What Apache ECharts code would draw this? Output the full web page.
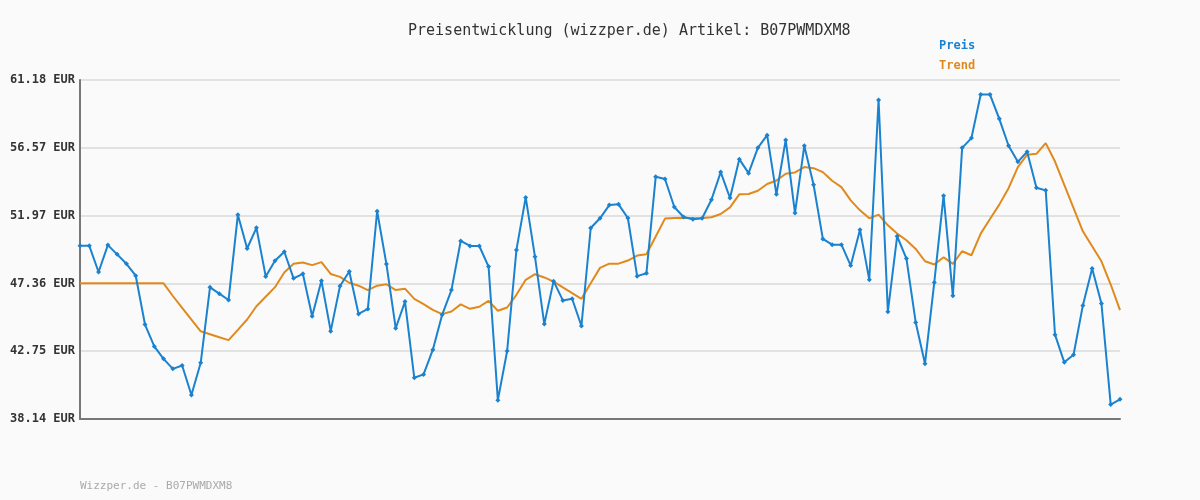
<!DOCTYPE html>
<html>
<head>
<meta charset="utf-8">
<script src="https://cdn.jsdelivr.net/npm/echarts@6/dist/echarts.min.js"></script>
<style>
html, body { margin: 0; padding: 0; background: #fafafa; }
#chart { width: 1200px; height: 500px; }
</style>
</head>
<body>
<div id="chart"></div>
<script>
// Preis (EUR) per point
var preis = [49.91, 49.91, 48.13, 49.96, 49.33, 48.69, 47.88, 44.56, 43.07, 42.23,
    41.55, 41.78, 39.77, 41.96, 47.09, 46.66, 46.23, 52.02, 49.73, 51.13,
    47.83, 48.90, 49.51, 47.70, 48.01, 45.12, 47.54, 44.11, 47.18, 48.17,
    45.28, 45.62, 52.26, 48.67, 44.31, 46.12, 40.94, 41.17, 42.85, 45.22,
    46.90, 50.24, 49.90, 49.90, 48.50, 39.42, 42.76, 49.63, 53.20, 49.16,
    44.59, 47.51, 46.20, 46.31, 44.46, 51.12, 51.78, 52.68, 52.73, 51.80,
    47.85, 48.05, 54.60, 54.45, 52.55, 51.87, 51.71, 51.78, 53.04, 54.92,
    53.16, 55.80, 54.85, 56.57, 57.43, 53.41, 57.11, 52.14, 56.71, 54.06,
    50.38, 49.99, 49.99, 48.57, 51.01, 47.60, 59.82, 45.43, 50.56, 49.04,
    44.70, 41.90, 47.42, 53.32, 46.51, 56.57, 57.23, 60.19, 60.19, 58.54,
    56.71, 55.62, 56.30, 53.86, 53.68, 43.87, 41.99, 42.51, 45.86, 48.37,
    45.99, 39.12, 39.48];

var trend = [47.36, 47.36, 47.36, 47.36, 47.36, 47.36, 47.36, 47.36, 47.36, 47.36,
    46.50, 45.70, 44.90, 44.10, 43.90, 43.70, 43.50, 44.20, 44.90, 45.80,
    46.45, 47.10, 48.10, 48.69, 48.78, 48.60, 48.80, 48.00, 47.80, 47.40,
    47.20, 46.90, 47.20, 47.30, 46.90, 47.00, 46.30, 45.95, 45.56, 45.27,
    45.45, 45.93, 45.63, 45.77, 46.17, 45.50, 45.72, 46.58, 47.60, 47.98,
    47.76, 47.48, 47.08, 46.69, 46.31, 47.37, 48.41, 48.70, 48.70, 48.91,
    49.25, 49.34, 50.54, 51.76, 51.80, 51.82, 51.78, 51.80, 51.85, 52.07,
    52.52, 53.41, 53.43, 53.65, 54.11, 54.35, 54.81, 54.90, 55.26, 55.19,
    54.92, 54.33, 53.90, 53.00, 52.32, 51.78, 52.03, 51.30, 50.74, 50.29,
    49.70, 48.86, 48.64, 49.13, 48.68, 49.54, 49.27, 50.74, 51.73, 52.71,
    53.83, 55.26, 56.10, 56.16, 56.89, 55.64, 54.06, 52.48, 50.90, 49.88,
    48.86, 47.28, 45.54];

// tick labels as printed in the picture (bottom to top)
var tickLabels = ['38.14', '42.75', '47.36', '51.97', '56.57', '61.18'];

var yMin = 38.14;
var yMax = 61.18;
var yStep = 4.608;

var days = [];
for (var i = 0; i < preis.length; i++) days.push(i + 1);

var mono = "'DejaVu Sans Mono', monospace";
var myChart = echarts.init(document.getElementById("chart"));

option = {
    backgroundColor: '#fafafa',
    animation: false,
    title: {
        text: 'Preisentwicklung (wizzper.de) Artikel: B07PWMDXM8',
        left: 403,
        top: 19,
        textStyle: { fontFamily: mono, fontSize: 15, fontWeight: 'normal', color: '#333' }
    },
    graphic: [
        { type: 'text', left: 939, top: 40, style: { text: 'Preis', fill: '#1a82cf', font: 'bold 12px ' + mono } },
        { type: 'text', left: 939, top: 60, style: { text: 'Trend', fill: '#e08a1e', font: 'bold 12px ' + mono } },
        { type: 'text', left: 80, top: 481, style: { text: 'Wizzper.de - B07PWMDXM8', fill: '#aaa', font: '11px ' + mono } }
    ],
    grid: { left: 80, right: 80, top: 80, bottom: 81 },
    xAxis: {
        type: 'category',
        data: days,
        boundaryGap: false,
        axisLine: { lineStyle: { color: '#777', width: 2 } },
        axisTick: { show: false },
        axisLabel: { show: false },
        splitLine: { show: false }
    },
    yAxis: {
        type: 'value',
        min: yMin,
        max: yMax,
        interval: yStep,
        axisLine: { show: true, lineStyle: { color: '#777', width: 2 } },
        axisTick: { show: false },
        axisLabel: {
            fontFamily: mono, fontSize: 12, fontWeight: 'bold', color: '#333', margin: 5,
            formatter: function (v) {
                var k = Math.round((v - yMin) / yStep);
                return tickLabels[k] + ' EUR';
            }
        },
        splitLine: { lineStyle: { color: '#e2e2e2', width: 2 } }
    },
    series: [
        {
            name: 'Trend',
            type: 'line',
            data: trend,
            symbol: 'none',
            lineStyle: { color: '#e08a1e', width: 2 }
        },
        {
            name: 'Preis',
            type: 'line',
            data: preis,
            symbol: 'diamond',
            symbolSize: 5,
            itemStyle: { color: '#1a82cf' },
            lineStyle: { color: '#1a82cf', width: 2 }
        }
    ]
};
myChart.setOption(option);
</script>
</body>
</html>
